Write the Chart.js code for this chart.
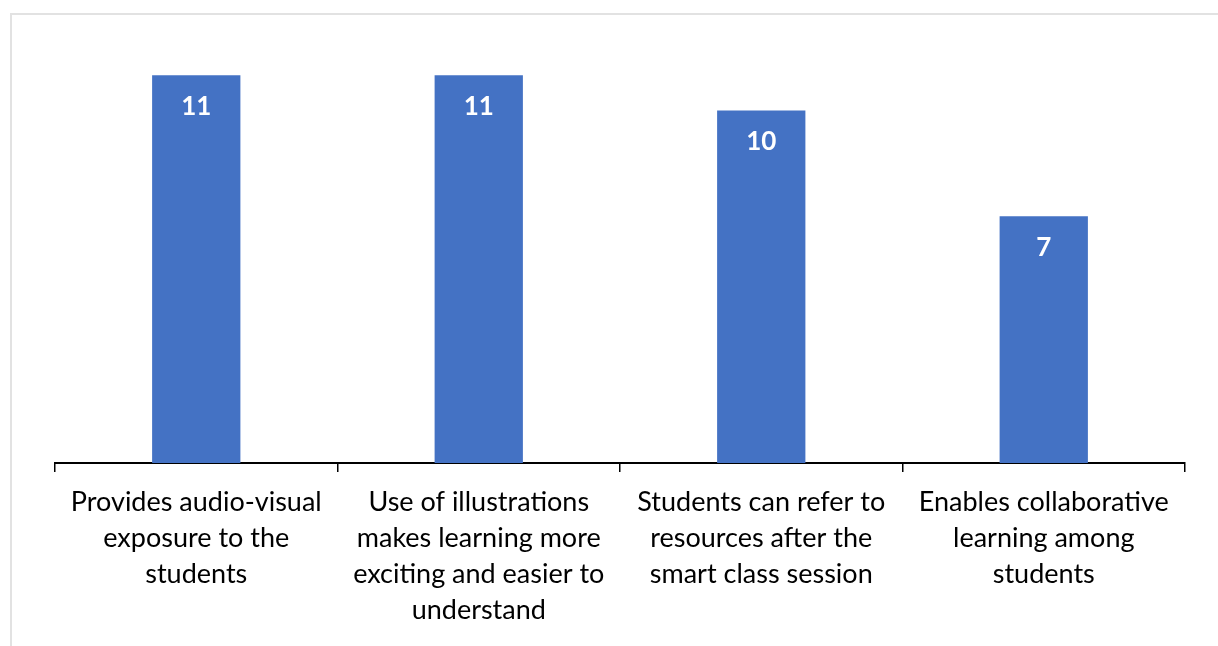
<!DOCTYPE html>
<html>
<head>
<meta charset="utf-8">
<script src="https://cdn.jsdelivr.net/npm/chart.js@4"></script>
<style>
  html, body { margin: 0; padding: 0; background: #ffffff; }
  #wrap { position: relative; width: 1218px; height: 646px; overflow: hidden; }
  #frame { position: absolute; left: 10px; top: 13px; width: 1300px; height: 700px;
           border: 2px solid #e2e2e2; box-sizing: border-box; }
  canvas { position: absolute; left: 0; top: 0; }
</style>
</head>
<body>
<div id="wrap">
  <div id="frame"></div>
  <canvas id="c" width="1218" height="646"></canvas>
</div>
<script>
// Benefits of smart classes: number of respondents per statement
const categories = [
  ["Provides audio-visual", "exposure to the", "students"],
  ["Use of illustrations", "makes learning more", "exciting and easier to", "understand"],
  ["Students can refer to", "resources after the", "smart class session"],
  ["Enables collaborative", "learning among", "students"]
];
const responses = [11, 11, 10, 7];
const barColor = "#4472c4";
const FONT = "Lato, 'Open Sans', sans-serif";

// Writes each bar's value in white inside the top of the bar
const valueLabels = {
  id: "valueLabels",
  afterDatasetsDraw(chart) {
    const ctx = chart.ctx;
    const meta = chart.getDatasetMeta(0);
    ctx.save();
    ctx.fillStyle = "#ffffff";
    ctx.font = "bold 26px " + FONT;
    ctx.textAlign = "center";
    ctx.textBaseline = "middle";
    meta.data.forEach((bar, i) => {
      ctx.fillText(String(responses[i]), bar.x, bar.y + 31);
    });
    ctx.restore();
  }
};

new Chart(document.getElementById("c"), {
  type: "bar",
  data: {
    labels: categories,
    datasets: [{
      data: responses,
      backgroundColor: barColor,
      barPercentage: 0.5,
      categoryPercentage: 0.625
    }]
  },
  options: {
    responsive: false,
    animation: false,
    layout: { padding: { left: 55, right: 33, top: 40, bottom: 0 } },
    plugins: { legend: { display: false }, tooltip: { enabled: false } },
    scales: {
      x: {
        grid: { drawOnChartArea: false, drawTicks: true, tickLength: 9, color: "#000000", lineWidth: 1.5, offset: true },
        border: { display: true, color: "#000000", width: 2 },
        ticks: {
          color: "#000000",
          font: { family: FONT, size: 27, lineHeight: 1.333 },
          padding: 12,
          maxRotation: 0,
          autoSkip: false
        },
        afterFit(scale) { scale.height = 183; }
      },
      y: {
        display: false,
        min: 0,
        max: 12
      }
    }
  },
  plugins: [valueLabels]
});
</script>
</body>
</html>
